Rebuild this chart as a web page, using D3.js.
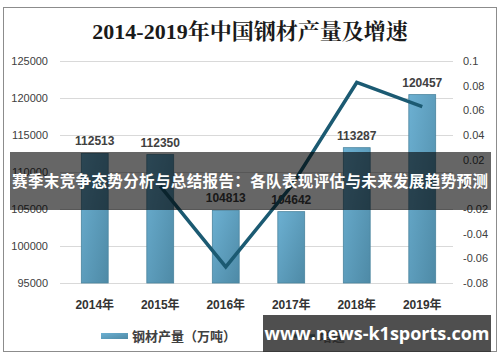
<!DOCTYPE html>
<html>
<head>
<meta charset="utf-8">
<script src="https://cdn.jsdelivr.net/npm/d3@7"></script>
<style>
  body { margin: 0; background: #fff; }
  svg { display: block; }
  .tick text { font-family: "Liberation Sans", "Noto Sans CJK SC", sans-serif; }
</style>
</head>
<body>
<figure id="chart" style="margin:0"></figure>
<script>
// chart data
var years = ["2014年", "2015年", "2016年", "2017年", "2018年", "2019年"];
var output = [112513, 112350, 104813, 104642, 113287, 120457];
var growth = [null, -0.0014, -0.067, -0.0016, 0.0826, 0.063];
var leftTicks = [95000, 100000, 105000, 110000, 115000, 120000, 125000];
var rightTicks = [-0.08, -0.06, -0.04, -0.02, 0, 0.02, 0.04, 0.06, 0.08, 0.1];

var W = 500, H = 362;
var plot = { left: 62, right: 455, top: 61, bottom: 283 };

var svg = d3.select("figure#chart")
  .append("svg")
  .attr("width", W)
  .attr("height", H)
  .attr("viewBox", `0 0 ${W} ${H}`);

var defs = svg.append("defs");
var grad = defs.append("linearGradient")
  .attr("id", "barGrad")
  .attr("x1", 0).attr("y1", 0).attr("x2", 1).attr("y2", 1);
grad.append("stop").attr("offset", "0%").attr("stop-color", "#6cb0d2");
grad.append("stop").attr("offset", "100%").attr("stop-color", "#4e8aa6");

// outer frame
svg.append("rect")
  .attr("x", 3.5).attr("y", 7.5)
  .attr("width", 493).attr("height", 344)
  .attr("fill", "#fff")
  .attr("stroke", "#8c8c8c");

svg.append("text")
  .attr("x", 250).attr("y", 39)
  .attr("text-anchor", "middle")
  .style("font-family", "'Liberation Serif', 'DejaVu Serif', 'Noto Serif CJK SC', 'Noto Sans CJK SC', serif")
  .style("font-size", "22px")
  .style("font-weight", "bold")
  .attr("fill", "#1a1a1a")
  .text("2014-2019年中国钢材产量及增速");

var x = d3.scaleBand()
  .domain(years)
  .range([plot.left, plot.right]);

var yL = d3.scaleLinear()
  .domain([95000, 125000])
  .range([plot.bottom, plot.top]);

var yR = d3.scaleLinear()
  .domain([-0.08, 0.1])
  .range([plot.bottom, plot.top]);

// gridlines
svg.append("g")
  .selectAll("line")
  .data(leftTicks)
  .enter()
  .append("line")
  .attr("x1", plot.left - 2)
  .attr("x2", plot.right - 2)
  .attr("y1", d => Math.round(yL(d)) + 0.5)
  .attr("y2", d => Math.round(yL(d)) + 0.5)
  .attr("stroke", "#d9d9d9");

var leftAxis = svg.append("g")
  .attr("transform", `translate(${plot.left - 14},0)`)
  .call(d3.axisLeft(yL).tickValues(leftTicks).tickSize(0).tickPadding(0).tickFormat(d3.format("d")));
leftAxis.select(".domain").remove();
leftAxis.selectAll("text")
  .style("font-size", "11px")
  .attr("fill", "#404040");

var rightAxis = svg.append("g")
  .attr("transform", `translate(${plot.right + 8},0)`)
  .call(d3.axisRight(yR).tickValues(rightTicks).tickSize(0).tickPadding(0).tickFormat(d => String(+d.toFixed(2))));
rightAxis.select(".domain").remove();
rightAxis.selectAll("text")
  .style("font-size", "11px")
  .attr("fill", "#404040");

// bars
var bw = x.bandwidth() * 0.41;
svg.append("g")
  .selectAll("rect")
  .data(output)
  .enter()
  .append("rect")
  .attr("x", (d, i) => x(years[i]) + (x.bandwidth() - bw) / 2)
  .attr("y", d => yL(d))
  .attr("width", bw)
  .attr("height", d => plot.bottom - yL(d))
  .attr("fill", "url(#barGrad)")
  .attr("stroke", "#4a849e")
  .attr("stroke-width", 0.8);

svg.append("g")
  .selectAll("text")
  .data(output)
  .enter()
  .append("text")
  .attr("x", (d, i) => x(years[i]) + x.bandwidth() / 2)
  .attr("y", d => yL(d) - 8)
  .attr("text-anchor", "middle")
  .style("font-family", "'Liberation Sans', sans-serif")
  .style("font-size", "12px")
  .style("font-weight", "bold")
  .attr("fill", "#404040")
  .text(d => d);

// growth line
var line = d3.line()
  .defined(d => d.v !== null)
  .x(d => x(d.k) + x.bandwidth() / 2)
  .y(d => yR(d.v));

svg.append("path")
  .datum(years.map((k, i) => ({ k: k, v: growth[i] })))
  .attr("d", line)
  .attr("fill", "none")
  .attr("stroke", "#1b5a72")
  .attr("stroke-width", 3.5)
  .attr("stroke-linejoin", "miter");

// x labels
svg.append("g")
  .selectAll("text")
  .data(years)
  .enter()
  .append("text")
  .attr("x", d => x(d) + x.bandwidth() / 2)
  .attr("y", 309)
  .attr("text-anchor", "middle")
  .style("font-family", "'Liberation Sans', 'Noto Sans CJK SC', sans-serif")
  .style("font-size", "12px")
  .style("font-weight", "bold")
  .attr("fill", "#333")
  .text(d => d);

// legend
svg.append("rect")
  .attr("x", 101).attr("y", 333)
  .attr("width", 27).attr("height", 6)
  .attr("fill", "url(#barGrad)");
svg.append("text")
  .attr("x", 132).attr("y", 341)
  .style("font-family", "'Noto Sans CJK SC', sans-serif")
  .style("font-size", "13px")
  .style("font-weight", "bold")
  .attr("fill", "#404040")
  .text("钢材产量（万吨）");
svg.append("line")
  .attr("x1", 290).attr("x2", 315)
  .attr("y1", 336).attr("y2", 336)
  .attr("stroke", "#1b5a72").attr("stroke-width", 3.5);
svg.append("text")
  .attr("x", 319).attr("y", 341)
  .style("font-family", "'Noto Sans CJK SC', sans-serif")
  .style("font-size", "13px")
  .style("font-weight", "bold")
  .attr("fill", "#404040")
  .text("增速");

// overlay banner
svg.append("rect")
  .attr("x", 10).attr("y", 152)
  .attr("width", 481).attr("height", 58)
  .attr("fill", "rgba(0,0,0,0.6)");
svg.append("text")
  .attr("x", 250).attr("y", 187)
  .attr("text-anchor", "middle")
  .attr("textLength", 476)
  .style("font-family", "'Noto Sans CJK SC', sans-serif")
  .style("font-size", "15.5px")
  .style("font-weight", "bold")
  .attr("fill", "#fff")
  .text("赛季末竞争态势分析与总结报告：各队表现评估与未来发展趋势预测");

// watermark
svg.append("rect")
  .attr("x", 263).attr("y", 315)
  .attr("width", 228).attr("height", 37)
  .attr("fill", "rgba(40,40,40,0.82)");
svg.append("text")
  .attr("x", 377).attr("y", 340)
  .attr("text-anchor", "middle")
  .style("font-family", "'Open Sans', 'DejaVu Sans', sans-serif")
  .style("font-size", "18px")
  .style("font-weight", "bold")
  .attr("fill", "#fff")
  .text("www.news-k1sports.com");
</script>
</body>
</html>
